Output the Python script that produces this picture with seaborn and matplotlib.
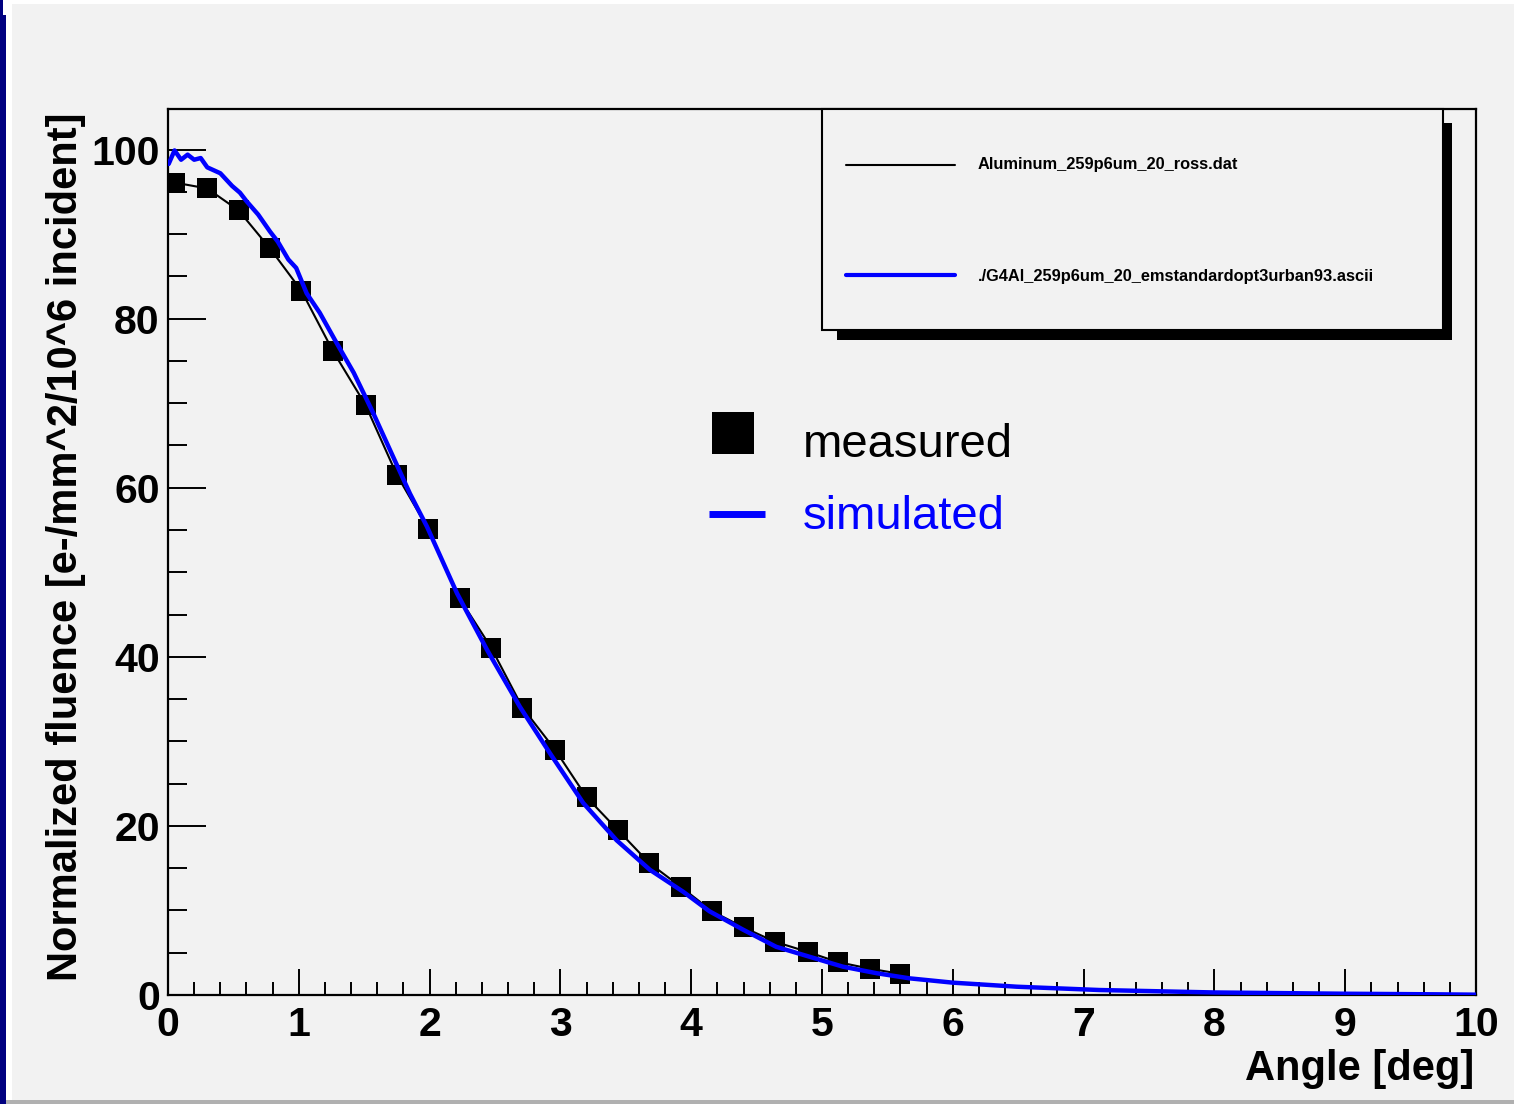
import numpy as np
import pandas as pd
import matplotlib
matplotlib.use("Agg")
import matplotlib.pyplot as plt
import seaborn as sns
from matplotlib.patches import Rectangle
from matplotlib.lines import Line2D
from matplotlib.ticker import MultipleLocator

# ---------------- data ----------------
measured_angle = [0.05, 0.30, 0.54, 0.78, 1.02, 1.26, 1.51, 1.75, 1.99, 2.23,
                  2.47, 2.71, 2.96, 3.20, 3.44, 3.68, 3.92, 4.16, 4.40, 4.64,
                  4.89, 5.12, 5.37, 5.60]
measured_fluence = [96.1, 95.4, 92.8, 88.3, 83.3, 76.2, 69.8, 61.5, 55.1, 46.9,
                    41.1, 34.0, 29.0, 23.4, 19.5, 15.6, 12.8, 9.9, 8.0, 6.3,
                    5.1, 3.9, 3.1, 2.5]

sim_angle = [0.005, 0.05, 0.10, 0.15, 0.20, 0.25, 0.30, 0.40, 0.49, 0.55,
             0.60, 0.69, 0.78, 0.84, 0.92, 0.98, 1.06, 1.16, 1.29, 1.42,
             1.57, 1.72, 1.85, 1.98, 2.21, 2.44, 2.69, 2.92, 3.175, 3.43,
             3.685, 3.94, 4.14, 4.40, 4.65, 4.91, 5.16, 5.42, 5.67, 6.00,
             6.49, 7.12, 8.00, 9.00, 9.70, 10.00]
sim_fluence = [98.3, 99.9, 98.8, 99.4, 98.8, 99.0, 97.9, 97.2, 95.7, 94.9,
               93.9, 92.3, 90.3, 89.1, 87.0, 86.0, 83.0, 80.7, 77.1, 73.6,
               68.8, 63.7, 59.3, 55.4, 47.5, 40.8, 34.1, 28.6, 22.7, 18.3,
               14.8, 12.2, 9.9, 7.7, 5.7, 4.5, 3.35, 2.57, 1.97, 1.46,
               0.98, 0.59, 0.30, 0.15, 0.08, 0.04]

x_ticks = [0, 1, 2, 3, 4, 5, 6, 7, 8, 9, 10]
y_ticks = [0, 20, 40, 60, 80, 100]

legend_labels = ["Aluminum_259p6um_20_ross.dat",
                 "./G4Al_259p6um_20_emstandardopt3urban93.ascii"]
text_labels = ["measured", "simulated"]
x_title = "Angle [deg]"
y_title = "Normalized fluence [e-/mm^2/10^6 incident]"

meas_df = pd.DataFrame({"angle": measured_angle, "fluence": measured_fluence})
sim_df = pd.DataFrame({"angle": sim_angle, "fluence": sim_fluence})

# ---------------- style ----------------
sns.set_style("ticks")
plt.rcParams["font.family"] = ["Liberation Sans", "DejaVu Sans"]
plt.rcParams["text.color"] = "black"
plt.rcParams["axes.labelcolor"] = "black"
plt.rcParams["xtick.color"] = "black"
plt.rcParams["ytick.color"] = "black"

W, H = 1514, 1104
fig = plt.figure(figsize=(W / 100, H / 100), dpi=100)
fig.patch.set_facecolor("white")


def fx(px):
    return px / W


def fy(py):
    return 1 - py / H


GREY = "#f2f2f2"
# background frame
fig.patches.append(Rectangle((fx(12), fy(1100)), fx(1514) - fx(12), fy(4) - fy(1100),
                             transform=fig.transFigure, facecolor=GREY,
                             edgecolor="none", zorder=-10))
fig.patches.append(Rectangle((0, 0), fx(6), 1, transform=fig.transFigure,
                             facecolor="#000080", edgecolor="none", zorder=-9))
fig.patches.append(Rectangle((fx(3), fy(15)), fx(3), fy(0) - fy(15),
                             transform=fig.transFigure, facecolor="white",
                             edgecolor="none", zorder=-8))
fig.patches.append(Rectangle((fx(6), 0), 1 - fx(6), fy(1100),
                             transform=fig.transFigure, facecolor="#b0b0b0",
                             edgecolor="none", zorder=-8))

ax = fig.add_axes([fx(168), fy(995), fx(1476) - fx(168), fy(109) - fy(995)])
ax.set_facecolor(GREY)

sns.lineplot(data=meas_df, x="angle", y="fluence", ax=ax, color="black",
             lw=1.5, marker="s", markersize=14, markeredgewidth=0,
             markerfacecolor="black", legend=False, zorder=3)
sns.lineplot(data=sim_df, x="angle", y="fluence", ax=ax, color="#0000ff",
             lw=3.2, legend=False, zorder=4)

ax.set_xlim(0, 10)
ax.set_ylim(0, 104.8)
ax.set_xticks(x_ticks)
ax.set_xticklabels([str(t) for t in x_ticks])
ax.set_yticks(y_ticks)
ax.set_yticklabels([str(t) for t in y_ticks])
ax.xaxis.set_minor_locator(MultipleLocator(0.2))
ax.yaxis.set_minor_locator(MultipleLocator(5))
ax.set_xlabel("")
ax.set_ylabel("")

for s in ax.spines.values():
    s.set_visible(True)
    s.set_linewidth(1.6)
    s.set_color("black")

ax.tick_params(axis="both", which="both", direction="in", top=False, right=False,
               colors="black", labelcolor="black", width=1.4)
ax.tick_params(axis="x", which="major", length=18.7, pad=8, labelsize=29.5)
ax.tick_params(axis="x", which="minor", length=9.4)
ax.tick_params(axis="y", which="major", length=27.4, pad=6, labelsize=29.5)
ax.tick_params(axis="y", which="minor", length=13.7)
for lab in ax.get_xticklabels() + ax.get_yticklabels():
    lab.set_fontweight("bold")
    lab.set_color("black")

# axis titles
fig.text(fx(1474), fy(1080), x_title, ha="right", va="baseline",
         fontsize=30, fontweight="bold", color="black")
fig.text(fx(77), fy(547), y_title, ha="center", va="baseline",
         rotation=90, rotation_mode="anchor", fontsize=30, fontweight="bold",
         color="black")

# ---------------- top-right legend box ----------------
fig.patches.append(Rectangle((fx(837), fy(340)), fx(1452) - fx(837), fy(123) - fy(340),
                             transform=fig.transFigure, facecolor="black",
                             edgecolor="none", zorder=5))
fig.patches.append(Rectangle((fx(822), fy(330)), fx(1443) - fx(822), fy(109) - fy(330),
                             transform=fig.transFigure, facecolor=GREY,
                             edgecolor="black", lw=1.5, zorder=6))
fig.lines.append(Line2D([fx(846), fx(955)], [fy(165), fy(165)], transform=fig.transFigure,
                        color="black", lw=1.5, zorder=7))
fig.lines.append(Line2D([fx(846), fx(955)], [fy(275), fy(275)], transform=fig.transFigure,
                        color="#0000ff", lw=3, zorder=7))
fig.text(fx(978), fy(165), legend_labels[0], ha="left", va="center",
         fontsize=11.8, fontweight="bold", color="black", zorder=8)
fig.text(fx(978), fy(276), legend_labels[1], ha="left", va="center",
         fontsize=11.8, fontweight="bold", color="black", zorder=8)

# ---------------- measured / simulated key ----------------
fig.lines.append(Line2D([fx(733)], [fy(433)], transform=fig.transFigure, marker="s",
                        markersize=30, markeredgewidth=0, color="black",
                        linestyle="none", zorder=7))
fig.lines.append(Line2D([fx(709), fx(765)], [fy(514), fy(514)], transform=fig.transFigure,
                        color="#0000ff", lw=5, solid_capstyle="butt", zorder=7))
fig.text(fx(803), fy(457), text_labels[0], ha="left", va="baseline",
         fontsize=34, color="black", zorder=8)
fig.text(fx(803), fy(529), text_labels[1], ha="left", va="baseline",
         fontsize=34, color="#0000ff", zorder=8)

fig.savefig("out.png", dpi=100, facecolor=fig.get_facecolor())
